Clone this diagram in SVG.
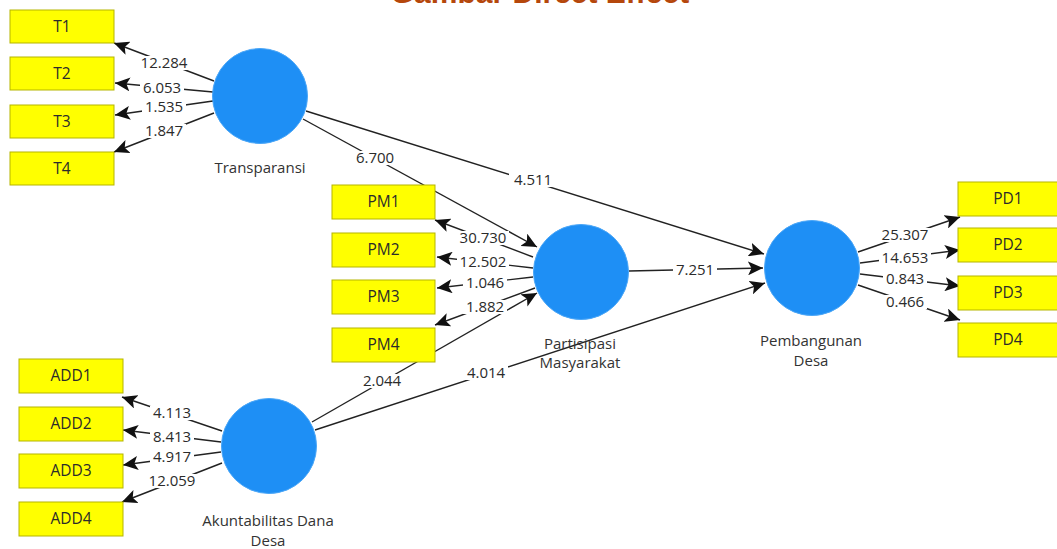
<svg xmlns="http://www.w3.org/2000/svg" width="1057" height="549" viewBox="0 0 1057 549">
<style>
.bg{fill:#ffffff}
.box{fill:#ffff00;stroke:#b5b500;stroke-width:1}
.lv{fill:#1e8ff5;stroke:#4aa6f7;stroke-width:1}
.bt{font-family:"Open Sans","Liberation Sans",sans-serif;font-size:15.5px;fill:#2b2b2b;text-anchor:middle}
.nt{font-family:"Open Sans","Liberation Sans",sans-serif;font-size:15px;fill:#333333;text-anchor:middle}
.ln{stroke:#222222;stroke-width:1.4;fill:none;marker-end:url(#ah)}
.lb{fill:#ffffff}
.ct{font-family:"Open Sans","Liberation Sans",sans-serif;font-size:15px;fill:#2b2b2b;text-anchor:middle}
.title{font-family:"Liberation Sans",Arial,sans-serif;font-size:30px;font-weight:bold;fill:#b5470c;text-anchor:middle}
</style>
<defs>
<marker id="ah" markerUnits="userSpaceOnUse" markerWidth="16" markerHeight="14" viewBox="0 0 16 14" refX="15" refY="7" orient="auto">
<path d="M0,0 L15,7 L0,14 L3.5,7 Z" fill="#111111"/>
</marker>
</defs>
<rect class="bg" x="0" y="0" width="1057" height="549"/>
<text class="title" x="540" y="3">Gambar Direct Effect</text>

<g id="connectors">
<line class="ln" x1="214" y1="81" x2="114" y2="43"/>
<line class="ln" x1="213" y1="92" x2="115" y2="83"/>
<line class="ln" x1="213" y1="101" x2="115" y2="115"/>
<line class="ln" x1="214" y1="113" x2="114" y2="152"/>
<line class="ln" x1="306" y1="111" x2="764" y2="254"/>
<line class="ln" x1="303" y1="119" x2="537" y2="247"/>
<line class="ln" x1="533" y1="257" x2="435" y2="220"/>
<line class="ln" x1="533" y1="268" x2="437" y2="257"/>
<line class="ln" x1="533" y1="277" x2="437" y2="288"/>
<line class="ln" x1="535" y1="288" x2="435" y2="325"/>
<line class="ln" x1="629" y1="271" x2="763" y2="268"/>
<line class="ln" x1="312" y1="422" x2="537" y2="293"/>
<line class="ln" x1="315" y1="430" x2="765" y2="283"/>
<line class="ln" x1="858" y1="252" x2="960" y2="217"/>
<line class="ln" x1="860" y1="263" x2="960" y2="250"/>
<line class="ln" x1="860" y1="274" x2="960" y2="286"/>
<line class="ln" x1="858" y1="285" x2="960" y2="320"/>
<line class="ln" x1="222" y1="431" x2="122" y2="397"/>
<line class="ln" x1="221" y1="442" x2="123" y2="430"/>
<line class="ln" x1="221" y1="452" x2="123" y2="465"/>
<line class="ln" x1="222" y1="463" x2="122" y2="502"/>

<rect class="lb" x="138" y="56" width="52" height="14"/><text class="ct" x="164" y="68">12.284</text>
<rect class="lb" x="140" y="81" width="44" height="14"/><text class="ct" x="162" y="93">6.053</text>
<rect class="lb" x="142" y="100" width="44" height="14"/><text class="ct" x="164" y="112">1.535</text>
<rect class="lb" x="142" y="124" width="44" height="14"/><text class="ct" x="164" y="136">1.847</text>
<rect class="lb" x="353" y="151" width="44" height="14"/><text class="ct" x="375" y="163">6.700</text>
<rect class="lb" x="509" y="173" width="48" height="14"/><text class="ct" x="533" y="185">4.511</text>
<rect class="lb" x="457" y="231" width="52" height="14"/><text class="ct" x="483" y="243">30.730</text>
<rect class="lb" x="457" y="255" width="52" height="14"/><text class="ct" x="483" y="267">12.502</text>
<rect class="lb" x="463" y="276" width="44" height="14"/><text class="ct" x="485" y="288">1.046</text>
<rect class="lb" x="463" y="300" width="44" height="14"/><text class="ct" x="485" y="312">1.882</text>
<rect class="lb" x="673" y="263" width="44" height="14"/><text class="ct" x="695" y="275">7.251</text>
<rect class="lb" x="360" y="374" width="44" height="14"/><text class="ct" x="382" y="386">2.044</text>
<rect class="lb" x="464" y="366" width="44" height="14"/><text class="ct" x="486" y="378">4.014</text>
<rect class="lb" x="879" y="228" width="52" height="14"/><text class="ct" x="905" y="240">25.307</text>
<rect class="lb" x="879" y="251" width="52" height="14"/><text class="ct" x="905" y="263">14.653</text>
<rect class="lb" x="883" y="272" width="44" height="14"/><text class="ct" x="905" y="284">0.843</text>
<rect class="lb" x="883" y="295" width="44" height="14"/><text class="ct" x="905" y="307">0.466</text>
<rect class="lb" x="150" y="406" width="44" height="14"/><text class="ct" x="172" y="418">4.113</text>
<rect class="lb" x="150" y="430" width="44" height="14"/><text class="ct" x="172" y="442">8.413</text>
<rect class="lb" x="150" y="450" width="44" height="14"/><text class="ct" x="172" y="462">4.917</text>
<rect class="lb" x="146" y="474" width="52" height="14"/><text class="ct" x="172" y="486">12.059</text>
</g>

<g id="T1"><rect class="box" x="10" y="10" width="104" height="33"/><text class="bt" x="62" y="32">T1</text></g>
<g id="T2"><rect class="box" x="10" y="57" width="104" height="33"/><text class="bt" x="62" y="79">T2</text></g>
<g id="T3"><rect class="box" x="10" y="105" width="104" height="33"/><text class="bt" x="62" y="127">T3</text></g>
<g id="T4"><rect class="box" x="10" y="152" width="104" height="33"/><text class="bt" x="62" y="174">T4</text></g>

<g id="PM1"><rect class="box" x="332" y="185" width="103" height="34"/><text class="bt" x="383.5" y="207">PM1</text></g>
<g id="PM2"><rect class="box" x="332" y="233" width="103" height="34"/><text class="bt" x="383.5" y="255">PM2</text></g>
<g id="PM3"><rect class="box" x="332" y="280" width="103" height="34"/><text class="bt" x="383.5" y="302">PM3</text></g>
<g id="PM4"><rect class="box" x="332" y="328" width="103" height="34"/><text class="bt" x="383.5" y="350">PM4</text></g>

<g id="PD1"><rect class="box" x="958" y="182" width="103" height="34"/><text class="bt" x="1008" y="204">PD1</text></g>
<g id="PD2"><rect class="box" x="958" y="228" width="103" height="34"/><text class="bt" x="1008" y="250">PD2</text></g>
<g id="PD3"><rect class="box" x="958" y="276" width="103" height="34"/><text class="bt" x="1008" y="298">PD3</text></g>
<g id="PD4"><rect class="box" x="958" y="323" width="103" height="34"/><text class="bt" x="1008" y="345">PD4</text></g>

<g id="ADD1"><rect class="box" x="19" y="359" width="104" height="34"/><text class="bt" x="71" y="381">ADD1</text></g>
<g id="ADD2"><rect class="box" x="19" y="407" width="104" height="34"/><text class="bt" x="71" y="429">ADD2</text></g>
<g id="ADD3"><rect class="box" x="19" y="454" width="104" height="34"/><text class="bt" x="71" y="476">ADD3</text></g>
<g id="ADD4"><rect class="box" x="19" y="502" width="104" height="34"/><text class="bt" x="71" y="524">ADD4</text></g>

<g id="Transparansi"><circle class="lv" cx="260" cy="96" r="47.5"/><text class="nt" x="260" y="173">Transparansi</text></g>
<g id="PartisipasiMasyarakat"><circle class="lv" cx="581" cy="272" r="47.5"/><text class="nt" x="580" y="349">Partisipasi</text><text class="nt" x="580" y="368">Masyarakat</text></g>
<g id="PembangunanDesa"><circle class="lv" cx="812" cy="268" r="47.5"/><text class="nt" x="811" y="346">Pembangunan</text><text class="nt" x="811" y="366">Desa</text></g>
<g id="AkuntabilitasDanaDesa"><circle class="lv" cx="269" cy="446" r="47.5"/><text class="nt" x="268" y="526">Akuntabilitas Dana</text><text class="nt" x="268" y="546">Desa</text></g>
</svg>
